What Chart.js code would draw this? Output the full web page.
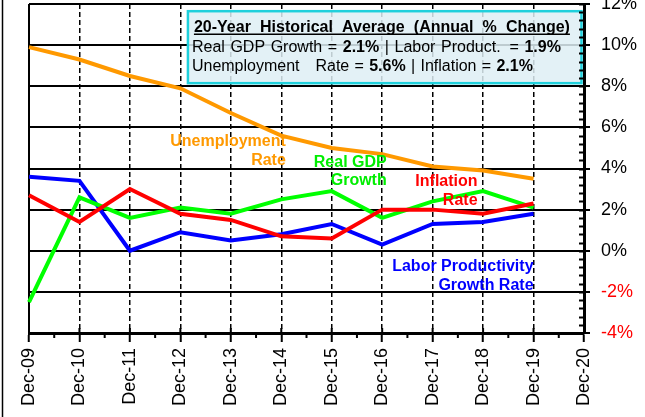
<!DOCTYPE html>
<html><head><meta charset="utf-8">
<script src="https://cdn.jsdelivr.net/npm/chart.js@4.4.1/dist/chart.umd.min.js"></script>
<style>html,body{margin:0;padding:0;background:#fff;overflow:hidden}</style>
</head><body>
<canvas id="c" width="645" height="417"></canvas>
<script>
// ---- data ----
const years = ['Dec-09','Dec-10','Dec-11','Dec-12','Dec-13','Dec-14','Dec-15','Dec-16','Dec-17','Dec-18','Dec-19','Dec-20'];
const unemploymentRate  = [9.9, 9.3, 8.5, 7.9, 6.7, 5.6, 5.0, 4.7, 4.1, 3.9, 3.5];
const realGdpGrowth     = [-2.5, 2.6, 1.6, 2.1, 1.8, 2.5, 2.9, 1.6, 2.4, 2.9, 2.1];
const inflationRate     = [2.7, 1.4, 3.0, 1.8, 1.5, 0.7, 0.6, 2.0, 2.0, 1.8, 2.3];
const laborProductivity = [3.6, 3.4, 0.0, 0.9, 0.5, 0.8, 1.3, 0.3, 1.3, 1.4, 1.8];
const yMin = -4, yMax = 12, yStep = 2;
const boxTitle = '20-Year Historical Average (Annual % Change)';
const boxLine1 = [['Real',0],['GDP',0],['Growth',0],['=',0],['2.1%',1],['|',0],['Labor',0],['Product.',0],['=',0],['1.9%',1]];
const boxLine2 = [['Unemployment',0],['Rate',0],['=',0],['5.6%',1],['|',0],['Inflation',0],['=',0],['2.1%',1]];

const FONT = '"Liberation Sans", Arial, sans-serif';

function drawTokens(ctx, tokens, x, y, width, weights, size) {
  let total = 0;
  const ws = tokens.map(t => { ctx.font = (t[1] ? 'bold ' : '') + size + 'px ' + FONT; const w = ctx.measureText(t[0]).width; total += w; return w; });
  const wsum = weights.reduce((a,b)=>a+b,0);
  const unit = Math.max(0, (width - total) / wsum);
  let cx = x;
  tokens.forEach((t, i) => {
    ctx.font = (t[1] ? 'bold ' : '') + size + 'px ' + FONT;
    ctx.fillText(t[0], cx, y);
    cx += ws[i] + (i < weights.length ? weights[i] * unit : 0);
  });
  return cx;
}

const decor = {
  id: 'decor',
  beforeDraw(chart) {
    const ctx = chart.ctx;
    ctx.save();
    ctx.fillStyle = '#fff';
    ctx.fillRect(0, 0, chart.width, chart.height);
    ctx.strokeStyle = '#000'; ctx.lineWidth = 1.5;
    ctx.beginPath(); ctx.moveTo(2.5, 0); ctx.lineTo(2.5, chart.height); ctx.stroke();
    ctx.restore();
  },
  beforeDatasetsDraw(chart) {
    const ctx = chart.ctx, a = chart.chartArea;
    ctx.save();
    ctx.strokeStyle = '#000'; ctx.lineWidth = 2;
    ctx.beginPath(); ctx.moveTo(a.left, a.top); ctx.lineTo(a.left, a.bottom); ctx.stroke();
    // annotation box (semi transparent over grid)
    const xs = chart.scales.x, ys = chart.scales.y;
    const bx1 = xs.getPixelForValue(3.15), bx2 = xs.getPixelForValue(10.95);
    const by1 = ys.getPixelForValue(11.65), by2 = ys.getPixelForValue(8.15);
    ctx.fillStyle = 'rgba(222,238,244,0.85)';
    ctx.fillRect(bx1, by1, bx2 - bx1, by2 - by1);
    ctx.strokeStyle = '#1fd0dc'; ctx.lineWidth = 2.5;
    ctx.strokeRect(bx1, by1, bx2 - bx1, by2 - by1);
    ctx.fillStyle = '#000'; ctx.textBaseline = 'alphabetic'; ctx.textAlign = 'left';
    const tx = bx1 + 6;
    const titleTok = boxTitle.split(' ').map(w => [w, 1]);
    drawTokens(ctx, titleTok, tx, by1 + 21, 376, [1,1,1,1,1], 16);
    ctx.lineWidth = 1.5; ctx.strokeStyle = '#000';
    ctx.beginPath(); ctx.moveTo(tx, by1 + 23); ctx.lineTo(tx + 376, by1 + 23); ctx.stroke();
    drawTokens(ctx, boxLine1, tx - 2, by1 + 40.5, 369, [1,1,1,1,1,1,1,1.6,1], 16);
    drawTokens(ctx, boxLine2, tx - 2, by1 + 60, 341, [3,1,1,1,1,1,1], 16);
    ctx.restore();
  },
  afterDatasetsDraw(chart) {
    const ctx = chart.ctx, xs = chart.scales.x, ys = chart.scales.y, a = chart.chartArea;
    ctx.save();
    ctx.font = 'bold 16px ' + FONT;
    ctx.textAlign = 'right'; ctx.textBaseline = 'alphabetic';
    const notes = [
      {lines: ['Unemployment', 'Rate'], color: '#ff9900', x: 5.09, y: [5.09, 4.17]},
      {lines: ['Real GDP', 'Growth'], color: '#00ee00', x: 7.09, y: [4.09, 3.2]},
      {lines: ['Inflation', 'Rate'], color: '#ff0000', x: 8.89, y: [3.16, 2.22]},
      {lines: ['Labor Productivity', 'Growth Rate'], color: '#0000ff', x: 10.0, y: [-0.97, -1.91]}
    ];
    notes.forEach(n => {
      ctx.fillStyle = n.color;
      n.lines.forEach((t, i) => ctx.fillText(t, xs.getPixelForValue(n.x), ys.getPixelForValue(n.y[i])));
    });
    // minor / inner ticks
    ctx.strokeStyle = '#000'; ctx.lineWidth = 2;
    ctx.beginPath();
    for (let i = 0; i < years.length; i++) {
      const px = xs.getPixelForValue(i);
      ctx.moveTo(px, a.bottom); ctx.lineTo(px, a.bottom - 5);
      if (i < years.length - 1) {
        const mx = xs.getPixelForValue(i + 0.5);
        ctx.moveTo(mx, a.bottom); ctx.lineTo(mx, a.bottom + 5);
      }
    }
    for (let v = yMin; v <= yMax + 1e-9; v += 0.4) {
      const py = Math.round(ys.getPixelForValue(v)) + 0.5;
      ctx.moveTo(a.right, py); ctx.lineTo(a.right - 5, py);
    }
    ctx.stroke();
    ctx.restore();
  }
};

const mk = (label, data, color) => ({label, data, borderColor: color, backgroundColor: color, borderWidth: 4, pointRadius: 0, tension: 0, fill: false});

new Chart(document.getElementById('c'), {
  type: 'line',
  data: {
    labels: years,
    datasets: [
      mk('Inflation Rate', inflationRate, '#ff0000'),
      mk('Real GDP Growth', realGdpGrowth, '#00ff00'),
      mk('Labor Productivity Growth Rate', laborProductivity, '#0000ff'),
      mk('Unemployment Rate', unemploymentRate, '#ff9900')
    ]
  },
  options: {
    responsive: false, animation: false, devicePixelRatio: 1,
    layout: {padding: {left: 29, top: 4, right: 0, bottom: 0}},
    plugins: {legend: {display: false}, tooltip: {enabled: false}},
    scales: {
      x: {
        type: 'category', offset: false,
        grid: {color: '#000', lineWidth: 1.5, drawTicks: true, tickLength: 9, tickColor: '#000', tickWidth: 2},
        border: {display: true, color: '#000', width: 3, dash: [5, 3]},
        ticks: {autoSkip: false, minRotation: 90, maxRotation: 90, padding: 6, color: '#000', font: {family: FONT, size: 18}},
        afterFit(s) { s.height = 84; s.paddingLeft = 0; s.paddingRight = 0; }
      },
      y: {
        position: 'right', min: yMin, max: yMax,
        grid: {color: '#000', lineWidth: 2, drawTicks: true, tickLength: 6, tickColor: '#000', tickWidth: 2},
        border: {display: true, color: '#000', width: 3},
        ticks: {stepSize: yStep, padding: 11, font: {family: FONT, size: 18},
          color: c => (c.tick && c.tick.value < 0) ? '#ff0000' : '#000',
          callback: v => v + '%'},
        afterFit(s) { s.width = 61; s.paddingTop = 0; s.paddingBottom = 0; }
      }
    }
  },
  plugins: [decor]
});
</script>
</body></html>
